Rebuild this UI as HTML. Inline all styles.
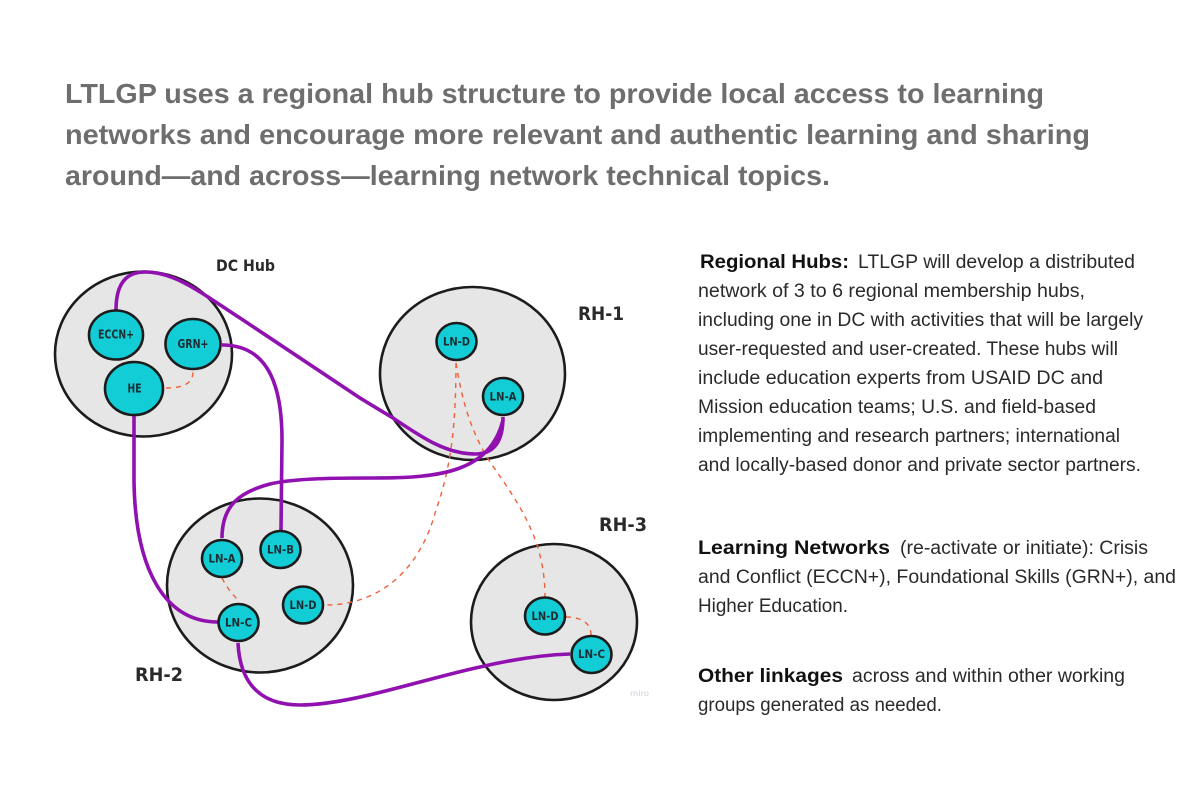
<!DOCTYPE html>
<html lang="en">
<head>
<meta charset="utf-8">
<title>LTLGP regional hub structure</title>
<style>
html,body{margin:0;padding:0;background:#fff;width:1200px;height:800px;overflow:hidden}
svg{display:block}
.t{font:bold 28px "Liberation Sans",sans-serif;fill:#6e6e6e}
.b{font:19px "Liberation Sans",sans-serif;fill:#2a2a2a}
.h{font:bold 19px "Liberation Sans",sans-serif;fill:#111}
.hub{fill:#e6e6e6;stroke:#1c1c1c;stroke-width:2.6}
.n{fill:#12ccd6;stroke:#1c1c1c;stroke-width:2.6}
.nl{font:bold 11.5px "DejaVu Sans",sans-serif;fill:#1a2e33;text-anchor:middle}
.nb{font-size:12.5px}
.rl{font:bold 19px "DejaVu Sans",sans-serif;fill:#2a2a2a}
.p{fill:none;stroke:#9010b0;stroke-width:3.6}
.d{fill:none;stroke:#f0603a;stroke-width:1.4;stroke-dasharray:5 5}
</style>
</head>
<body>
<svg xmlns="http://www.w3.org/2000/svg" width="1200" height="800" viewBox="0 0 1200 800">
<rect width="1200" height="800" fill="#fff"/>

<text class="t" x="65" y="103" textLength="979" lengthAdjust="spacingAndGlyphs">LTLGP uses a regional hub structure to provide local access to learning</text>
<text class="t" x="65" y="144" textLength="1025" lengthAdjust="spacingAndGlyphs">networks and encourage more relevant and authentic learning and sharing</text>
<text class="t" x="65" y="185" textLength="765" lengthAdjust="spacingAndGlyphs">around—and across—learning network technical topics.</text>

<ellipse class="hub" cx="143.5" cy="354" rx="88.5" ry="82.5"/>
<ellipse class="hub" cx="472.5" cy="373.5" rx="92.5" ry="86.5"/>
<ellipse class="hub" cx="260" cy="585.5" rx="93" ry="87"/>
<ellipse class="hub" cx="554" cy="622" rx="83" ry="78"/>

<path class="d" d="M166 388C180 388 193 385 193 372"/>
<path class="d" d="M456 363C456 430 450 470 436 510C420 570 380 605 325 605"/>
<path class="d" d="M456 363C462 400 470 430 490 462C520 505 545 540 545 597"/>
<path class="d" d="M222 578Q228 590 238 600"/>
<path class="d" d="M566 617C580 617 591 622 591 635"/>

<path class="p" d="M116 310C116 285 125 272 145 272C175 272 200 292 240 318L360 398L393 418C420 436 445 454 475 454C495 454 503 440 503 417"/>
<path class="p" d="M222 538C222 505 240 492 270 484C295 478 340 478 375 478C440 478 490 472 503 420"/>
<path class="p" d="M222 345C262 345 282 375 282 440L281 530"/>
<path class="p" d="M134 416L134 480C135 570 165 622 218 622"/>
<path class="p" d="M238 643C240 685 262 705 300 705C350 705 420 680 480 667C510 660 540 655 570 654"/>

<ellipse class="n" cx="116" cy="335" rx="27" ry="24.5"/>
<ellipse class="n" cx="193" cy="344" rx="27.5" ry="25"/>
<ellipse class="n" cx="134" cy="388.5" rx="29" ry="26.5"/>
<ellipse class="n" cx="456.5" cy="341.5" rx="20" ry="18.5"/>
<ellipse class="n" cx="503" cy="396.5" rx="20" ry="18.5"/>
<ellipse class="n" cx="222" cy="558.5" rx="20" ry="18.5"/>
<ellipse class="n" cx="280.5" cy="549.5" rx="20" ry="18.5"/>
<ellipse class="n" cx="303" cy="605" rx="20" ry="18.5"/>
<ellipse class="n" cx="238.5" cy="622.5" rx="20" ry="18.5"/>
<ellipse class="n" cx="545" cy="616" rx="20" ry="18.5"/>
<ellipse class="n" cx="591.5" cy="654.5" rx="20" ry="18.5"/>

<text class="nl nb" x="116" y="338.5" textLength="36" lengthAdjust="spacingAndGlyphs">ECCN+</text>
<text class="nl nb" x="193" y="348" textLength="31" lengthAdjust="spacingAndGlyphs">GRN+</text>
<text class="nl nb" x="134.5" y="392.5" textLength="14" lengthAdjust="spacingAndGlyphs">HE</text>
<text class="nl" x="456.5" y="345.5" textLength="27" lengthAdjust="spacingAndGlyphs">LN-D</text>
<text class="nl" x="503" y="400.5" textLength="27" lengthAdjust="spacingAndGlyphs">LN-A</text>
<text class="nl" x="222" y="562.5" textLength="27" lengthAdjust="spacingAndGlyphs">LN-A</text>
<text class="nl" x="280.5" y="553.5" textLength="27" lengthAdjust="spacingAndGlyphs">LN-B</text>
<text class="nl" x="303" y="609" textLength="27" lengthAdjust="spacingAndGlyphs">LN-D</text>
<text class="nl" x="238.5" y="626.5" textLength="27" lengthAdjust="spacingAndGlyphs">LN-C</text>
<text class="nl" x="545" y="620" textLength="27" lengthAdjust="spacingAndGlyphs">LN-D</text>
<text class="nl" x="591.5" y="658" textLength="27" lengthAdjust="spacingAndGlyphs">LN-C</text>

<text x="216" y="271" font-family="'DejaVu Sans',sans-serif" font-weight="bold" font-size="16" fill="#2a2a2a" textLength="59" lengthAdjust="spacingAndGlyphs">DC Hub</text>
<text class="rl" x="578" y="320" textLength="46" lengthAdjust="spacingAndGlyphs">RH-1</text>
<text class="rl" x="135" y="681" textLength="48" lengthAdjust="spacingAndGlyphs">RH-2</text>
<text class="rl" x="599" y="531" textLength="48" lengthAdjust="spacingAndGlyphs">RH-3</text>
<text x="630" y="696" font-family="'DejaVu Sans',sans-serif" font-size="8" fill="#cfcfdc" textLength="19" lengthAdjust="spacingAndGlyphs">miro</text>

<text class="h" x="700" y="268" textLength="149" lengthAdjust="spacingAndGlyphs">Regional Hubs:</text>
<text class="b" x="858" y="268" textLength="277" lengthAdjust="spacingAndGlyphs">LTLGP will develop a distributed</text>
<text class="b" x="698" y="297" textLength="387" lengthAdjust="spacingAndGlyphs">network of 3 to 6 regional membership hubs,</text>
<text class="b" x="698" y="326" textLength="445" lengthAdjust="spacingAndGlyphs">including one in DC with activities that will be largely</text>
<text class="b" x="698" y="355" textLength="420" lengthAdjust="spacingAndGlyphs">user-requested and user-created. These hubs will</text>
<text class="b" x="698" y="384" textLength="405" lengthAdjust="spacingAndGlyphs">include education experts from USAID DC and</text>
<text class="b" x="698" y="413" textLength="398" lengthAdjust="spacingAndGlyphs">Mission education teams; U.S. and field-based</text>
<text class="b" x="698" y="442" textLength="422" lengthAdjust="spacingAndGlyphs">implementing and research partners; international</text>
<text class="b" x="698" y="471" textLength="443" lengthAdjust="spacingAndGlyphs">and locally-based donor and private sector partners.</text>

<text class="h" x="698" y="554" textLength="192" lengthAdjust="spacingAndGlyphs">Learning Networks</text>
<text class="b" x="900" y="554" textLength="248" lengthAdjust="spacingAndGlyphs">(re-activate or initiate): Crisis</text>
<text class="b" x="698" y="583" textLength="478" lengthAdjust="spacingAndGlyphs">and Conflict (ECCN+), Foundational Skills (GRN+), and</text>
<text class="b" x="698" y="612" textLength="150" lengthAdjust="spacingAndGlyphs">Higher Education.</text>

<text class="h" x="698" y="682" textLength="145" lengthAdjust="spacingAndGlyphs">Other linkages</text>
<text class="b" x="852" y="682" textLength="273" lengthAdjust="spacingAndGlyphs">across and within other working</text>
<text class="b" x="698" y="711" textLength="244" lengthAdjust="spacingAndGlyphs">groups generated as needed.</text>
</svg>
</body>
</html>
